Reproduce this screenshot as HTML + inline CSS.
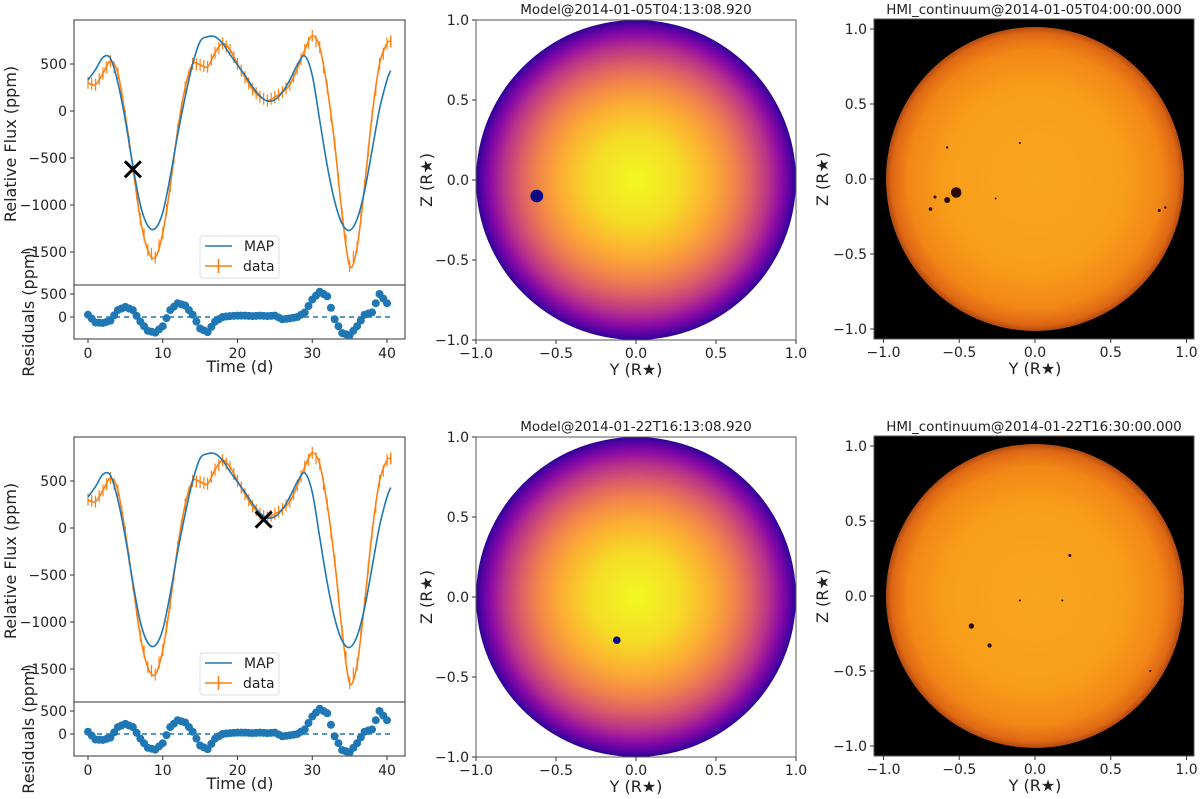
<!DOCTYPE html>
<html><head><meta charset="utf-8">
<style>
html,body{margin:0;padding:0;background:#fff;}
svg{display:block;font-family:"DejaVu Sans","Liberation Sans",sans-serif;}
</style></head>
<body>
<svg id="fig" width="1200" height="799" viewBox="0 0 1200 799" xmlns="http://www.w3.org/2000/svg">
<defs>
<radialGradient id="plasma" cx="0.5" cy="0.5" r="0.5">
<stop offset="0" stop-color="#f0f921"/>
<stop offset="0.28" stop-color="#f6dc26"/>
<stop offset="0.48" stop-color="#fcac33"/>
<stop offset="0.62" stop-color="#f1844b"/>
<stop offset="0.73" stop-color="#db5c68"/>
<stop offset="0.83" stop-color="#b83289"/>
<stop offset="0.91" stop-color="#8b0aa5"/>
<stop offset="0.97" stop-color="#5402a3"/>
<stop offset="1" stop-color="#2a0593"/>
</radialGradient>
<radialGradient id="sun" cx="0.5" cy="0.5" r="0.5">
<stop offset="0" stop-color="#f9a520"/>
<stop offset="0.6" stop-color="#f89e1a"/>
<stop offset="0.85" stop-color="#f28716"/>
<stop offset="0.96" stop-color="#de6714"/>
<stop offset="1" stop-color="#b04a10"/>
</radialGradient>
</defs>
</svg>
<script>
// ---- data ----
const days = [0,1,2,3,4,5,6,7,8,9,10,11,12,13,14,15,16,17,18,19,20,21,22,23,24,25,26,27,28,29,30,31,32,33,34,35,36,37,38,39,40,40.5];
const mapFlux = [330,440,570,560,300,-100,-580,-1000,-1220,-1250,-1080,-700,-250,150,500,740,790,790,720,600,490,380,260,160,105,120,200,330,490,585,380,-100,-580,-960,-1200,-1270,-1150,-850,-420,20,330,430];
const dataFlux = [300,280,400,530,400,-50,-600,-1150,-1480,-1560,-1300,-800,-200,250,500,490,470,620,720,650,500,360,230,150,110,150,200,280,450,650,800,680,250,-350,-1100,-1650,-1450,-800,-50,500,720,740];
const residDays = [0,1,2,3,4,5,6,7,8,9,10,11,12,13,14,15,16,17,18,19,20,21,22,23,24,25,26,27,28,29,30,31,32,33,34,35,36,37,38,39,40];
const resid = [50,-120,-130,-80,150,220,150,-100,-300,-340,-200,150,300,250,50,-250,-330,-100,0,20,30,30,20,30,20,30,-50,-30,0,100,380,550,450,-50,-350,-400,-200,50,100,500,300];
const xTicks = [0,10,20,30,40];
const yTicks = [500,0,-500,-1000,-1500];
const rTicks = [500,0];
const diskTicks = [-1.0,-0.5,0.0,0.5,1.0];
const modelTitles = ["Model@2014-01-05T04:13:08.920","Model@2014-01-22T16:13:08.920"];
const hmiTitles = ["HMI_continuum@2014-01-05T04:00:00.000","HMI_continuum@2014-01-22T16:30:00.000"];
const markerT = [6.0,23.5];
const markerV = [-620,90];
const modelSpotY = [-0.62,-0.12];
const modelSpotZ = [-0.10,-0.27];
const modelSpotR = [0.04,0.024];
const sunspotsY = [[-0.52,-0.58,-0.69,-0.66,-0.26,-0.1,-0.58,0.82,0.86],[-0.42,-0.3,-0.1,0.18,0.23,0.76]];
const sunspotsZ = [[-0.09,-0.14,-0.2,-0.12,-0.13,0.24,0.21,-0.21,-0.19],[-0.2,-0.33,-0.03,-0.03,0.27,-0.5]];
const sunspotsR = [[0.035,0.02,0.012,0.01,0.005,0.007,0.008,0.01,0.008],[0.018,0.014,0.006,0.006,0.01,0.005]];

const NS="http://www.w3.org/2000/svg";
const svg=document.getElementById('fig');
function el(tag,attrs,parent,txt){const e=document.createElementNS(NS,tag);for(const k in attrs)e.setAttribute(k,attrs[k]);if(txt!==undefined)e.textContent=txt;(parent||svg).appendChild(e);return e;}
function fmtNum(v){return v<0?'\u2212'+Math.abs(v):String(v);}
function fmt1(v){return (v<0?'\u2212':'')+Math.abs(v).toFixed(1);}
function smooth(pts){let d='M'+pts[0][0]+','+pts[0][1];for(let i=0;i<pts.length-1;i++){const p0=pts[Math.max(0,i-1)],p1=pts[i],p2=pts[i+1],p3=pts[Math.min(pts.length-1,i+2)];const c1x=p1[0]+(p2[0]-p0[0])/6,c1y=p1[1]+(p2[1]-p0[1])/6,c2x=p2[0]-(p3[0]-p1[0])/6,c2y=p2[1]-(p3[1]-p1[1])/6;d+=' C'+c1x+','+c1y+' '+c2x+','+c2y+' '+p2[0]+','+p2[1];}return d;}

function row(r){
  const oy=r*417;
  const L=74,R=405,T=20+oy,MB=285+oy,RB=339+oy;
  const xs=t=>88+(t-0)*(387-88)/40;
  const ys=v=>111+oy-v*0.094;
  const rs=v=>317+oy-v*0.046;
  const g=el('g',{});
  
  
  const clipId='clipm'+r, clipId2='clipr'+r;
  const cp=el('clipPath',{id:clipId},g);el('rect',{x:L,y:T,width:R-L,height:MB-T},cp);
  const cp2=el('clipPath',{id:clipId2},g);el('rect',{x:L,y:MB,width:R-L,height:RB-MB},cp2);
  const dg=el('g',{'clip-path':'url(#'+clipId+')'},g);
  const dpts=days.map((t,i)=>[xs(t),ys(dataFlux[i])]);
  const dl=el('path',{d:smooth(dpts),fill:'none',stroke:'#ff7f0e','stroke-width':1.6},dg);
  
  
  days.forEach((t,i)=>{
    for(let k=0;k<2;k++){
      const tt=t+k/2; if(tt>40.5) break;
      const j=Math.min(i+1,days.length-1);
      const fr=(days[j]===t)?0:(tt-t)/(days[j]-t);
      const v=dataFlux[i]+(dataFlux[j]-dataFlux[i])*fr;
      const eb=el('line',{x1:xs(tt),x2:xs(tt),y1:ys(v)-6,y2:ys(v)+6,stroke:'#ff7f0e','stroke-width':1.2},dg);
      
      
    }
  });
  const mpts=days.map((t,i)=>[xs(t),ys(mapFlux[i])]);
  const ml=el('path',{d:smooth(mpts),fill:'none',stroke:'#1f77b4','stroke-width':1.6},dg);
  
  
  const mx=xs(markerT[r]),my=ys(markerV[r]);
  const xm=el('path',{d:`M${mx-8},${my-8}L${mx+8},${my+8}M${mx-8},${my+8}L${mx+8},${my-8}`,stroke:'#000','stroke-width':3},g);
  
  
  el('rect',{x:L,y:T,width:R-L,height:MB-T,fill:'none',stroke:'#333','stroke-width':1},g);
  el('rect',{x:L,y:MB,width:R-L,height:RB-MB,fill:'none',stroke:'#333','stroke-width':1},g);
  const lg=el('g',{},g);
  
  
  el('rect',{x:200,y:236+oy,width:79,height:42,rx:3,fill:'#fff',stroke:'#ddd'},lg);
  el('line',{x1:205,x2:232,y1:246+oy,y2:246+oy,stroke:'#1f77b4','stroke-width':1.6},lg);
  el('text',{x:244,y:251+oy,'font-size':14,fill:'#222'},lg,'MAP');
  el('line',{x1:205,x2:232,y1:266+oy,y2:266+oy,stroke:'#ff7f0e','stroke-width':1.6},lg);
  el('line',{x1:218.5,x2:218.5,y1:259+oy,y2:273+oy,stroke:'#ff7f0e','stroke-width':1.6},lg);
  el('text',{x:243,y:271+oy,'font-size':14,fill:'#222'},lg,'data');
  yTicks.forEach(v=>{const y=ys(v);el('line',{x1:L-4,x2:L,y1:y,y2:y,stroke:'#333'},g);
    const t=el('text',{x:L-7,y:y+5,'font-size':14,'text-anchor':'end',fill:'#222'},g,fmtNum(v));
    });
  const rg=el('g',{'clip-path':'url(#'+clipId2+')'},g);
  el('line',{x1:xs(0),x2:xs(40.5),y1:rs(0),y2:rs(0),stroke:'#1f77b4','stroke-width':1.4,'stroke-dasharray':'5,4'},rg);
  residDays.forEach((t,i)=>{
    const c=el('circle',{cx:xs(t),cy:rs(resid[i]),r:4,fill:'#1f77b4'},rg);
    
    
    if(i<residDays.length-1){const c2=el('circle',{cx:xs(t+0.5),cy:rs((resid[i]+resid[i+1])/2),r:4,fill:'#1f77b4'},rg);
      
      }
  });
  rTicks.forEach(v=>{const y=rs(v);el('line',{x1:L-4,x2:L,y1:y,y2:y,stroke:'#333'},g);
    el('text',{x:L-7,y:y+5,'font-size':14,'text-anchor':'end',fill:'#222'},g,fmtNum(v));});
  xTicks.forEach(v=>{const x=xs(v);el('line',{x1:x,x2:x,y1:RB,y2:RB+4,stroke:'#333'},g);
    el('text',{x:x,y:RB+19,'font-size':14,'text-anchor':'middle',fill:'#222'},g,String(v));});
  const xl=el('text',{x:240,y:372+oy,'font-size':16,'text-anchor':'middle',fill:'#222'},g,'Time (d)');
  
  const yl=el('text',{x:0,y:0,'font-size':16,'text-anchor':'middle',fill:'#222',transform:`translate(16,${144+oy}) rotate(-90)`},g,'Relative Flux (ppm)');
  
  const rl=el('text',{x:0,y:0,'font-size':16,'text-anchor':'middle',fill:'#222',transform:`translate(34,${312+oy}) rotate(-90)`},g,'Residuals (ppm)');
  

  const mg=el('g',{});
  
  
  const mL=476,mR=796,mT=20+oy,mB=340+oy;
  const mxs=v=>(mL+mR)/2+v*(mR-mL)/2, mys=v=>(mT+mB)/2-v*(mB-mT)/2;
  const disk=el('circle',{cx:mxs(0),cy:mys(0),r:(mR-mL)/2,fill:'url(#plasma)'},mg);
  
  const sp=el('circle',{cx:mxs(modelSpotY[r]),cy:mys(modelSpotZ[r]),r:modelSpotR[r]*(mR-mL)/2,fill:'#0d0887'},mg);
  
  el('rect',{x:mL,y:mT,width:mR-mL,height:mB-mT,fill:'none',stroke:'#555'},mg);
  diskTicks.forEach(v=>{
    el('line',{x1:mxs(v),x2:mxs(v),y1:mB,y2:mB+4,stroke:'#333'},mg);
    el('text',{x:mxs(v),y:mB+18,'font-size':14,'text-anchor':'middle',fill:'#222'},mg,fmt1(v));
    el('line',{x1:mL-4,x2:mL,y1:mys(v),y2:mys(v),stroke:'#333'},mg);
    el('text',{x:mL-7,y:mys(v)+5,'font-size':14,'text-anchor':'end',fill:'#222'},mg,fmt1(v));
  });
  el('text',{x:(mL+mR)/2,y:mT-6,'font-size':13.5,'text-anchor':'middle',fill:'#222'},mg,modelTitles[r]);
  el('text',{x:(mL+mR)/2,y:mB+35,'font-size':16,'text-anchor':'middle',fill:'#222'},mg,'Y (R\u2605)');
  el('text',{x:0,y:0,'font-size':16,'text-anchor':'middle',fill:'#222',transform:`translate(432,${(mT+mB)/2}) rotate(-90)`},mg,'Z (R\u2605)');

  const hg=el('g',{});
  
  
  const hL=874,hR=1194,hT=19+oy,hB=339+oy;
  const hxs=v=>1035+v*151.5, hys=v=>179+oy-v*150;
  el('rect',{x:hL,y:hT,width:hR-hL,height:hB-hT,fill:'#000'},hg);
  const sd=el('ellipse',{cx:hxs(0),cy:hys(0),rx:149,ry:152,fill:'url(#sun)'},hg);
  
  sunspotsY[r].forEach((y,i)=>{const s=el('circle',{cx:hxs(y),cy:hys(sunspotsZ[r][i]),r:Math.max(1,sunspotsR[r][i]*151),fill:'#2a0a00'},hg);
    });
  el('rect',{x:hL,y:hT,width:hR-hL,height:hB-hT,fill:'none',stroke:'#555'},hg);
  diskTicks.forEach(v=>{
    el('line',{x1:hxs(v),x2:hxs(v),y1:hB,y2:hB+4,stroke:'#333'},hg);
    el('text',{x:hxs(v),y:hB+18,'font-size':14,'text-anchor':'middle',fill:'#222'},hg,fmt1(v));
    el('line',{x1:hL-4,x2:hL,y1:hys(v),y2:hys(v),stroke:'#333'},hg);
    el('text',{x:hL-7,y:hys(v)+5,'font-size':14,'text-anchor':'end',fill:'#222'},hg,fmt1(v));
  });
  el('text',{x:(hL+hR)/2,y:hT-5,'font-size':13.5,'text-anchor':'middle',fill:'#222'},hg,hmiTitles[r]);
  el('text',{x:1035,y:hB+35,'font-size':16,'text-anchor':'middle',fill:'#222'},hg,'Y (R\u2605)');
  el('text',{x:0,y:0,'font-size':16,'text-anchor':'middle',fill:'#222',transform:`translate(828,${(hT+hB)/2}) rotate(-90)`},hg,'Z (R\u2605)');
}
row(0);row(1);
</script>
</body></html>
